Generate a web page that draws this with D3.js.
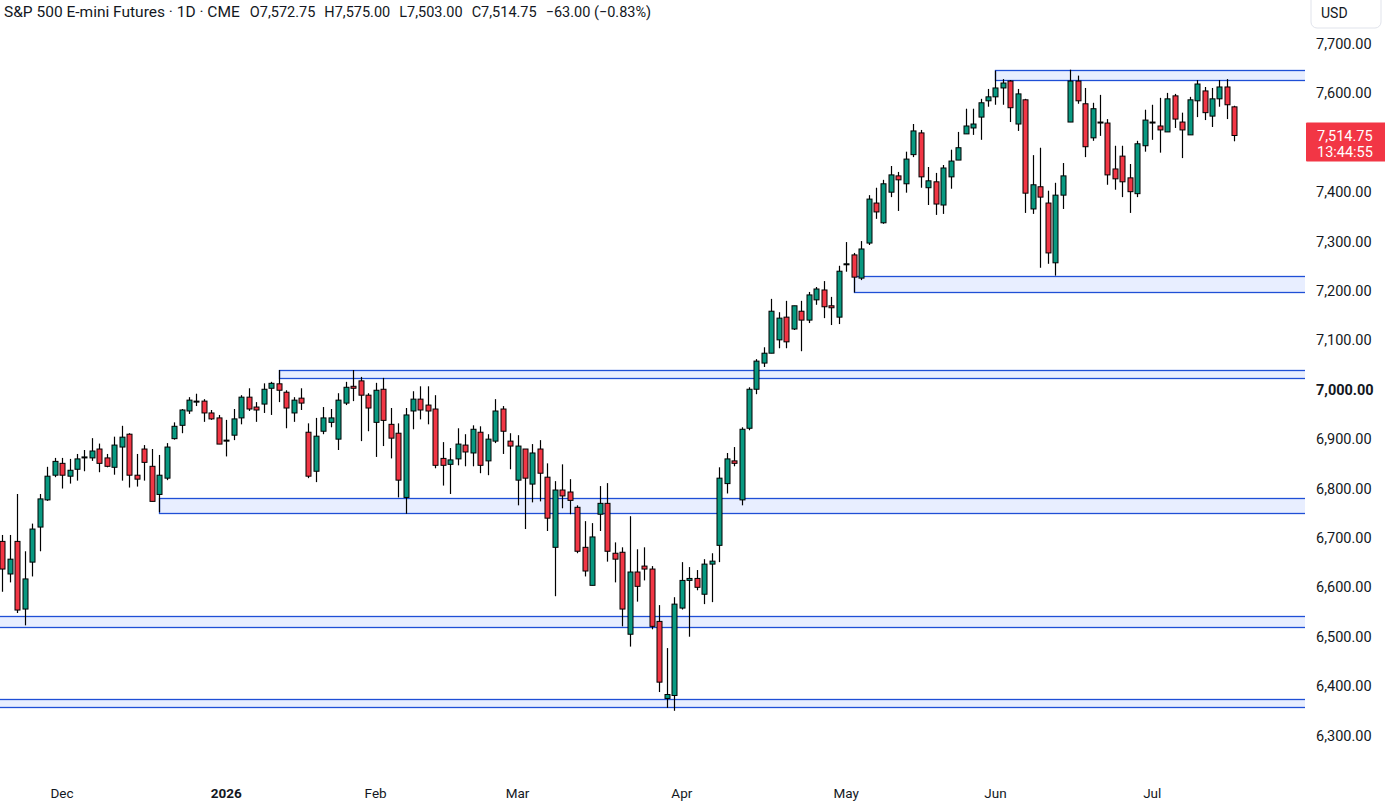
<!DOCTYPE html>
<html><head><meta charset="utf-8">
<script src="https://cdn.jsdelivr.net/npm/d3@7/dist/d3.min.js"></script>
<style>body{margin:0;background:#fff}svg{display:block;font-family:Roboto,"Liberation Sans",sans-serif}</style>
</head><body><svg id="c" width="1385" height="802"></svg>
<script>
// ---- data (daily sessions, index 0 = first visible candle) ----
const opens = [6693,6627,6693,6556,6651,6722,6777,6827,6851,6825,6839,6864,6862,6880,6862,6843,6884,6910,6827,6880,6845,6788,6821,6901,6928,6957,6977,6977,6953,6943,6898,6908,6943,6985,6965,6971,7003,7012,6995,6953,6983,6914,6835,6916,6934,6900,6973,7007,7018,6989,6934,7001,6930,6912,6782,6957,6981,6969,6961,6861,6849,6860,6888,6872,6914,6856,6896,6961,6896,6817,6880,6809,6880,6823,6681,6797,6793,6762,6681,6604,6748,6770,6669,6671,6505,6631,6643,6637,6531,6375,6381,6558,6614,6618,6586,6647,6685,6810,6856,6777,6922,7001,7054,7074,7101,7147,7123,7159,7141,7182,7202,7170,7147,7255,7273,7226,7297,7378,7338,7400,7433,7417,7476,7520,7409,7421,7374,7431,7465,7518,7530,7552,7585,7593,7611,7625,7538,7587,7366,7411,7378,7257,7394,7542,7625,7579,7510,7542,7540,7447,7473,7429,7397,7494,7542,7534,7522,7595,7542,7516,7585,7605,7554,7589,7613,7572.75];
const highs = [6706,6706,6789,6673,6729,6789,6844,6862,6862,6860,6870,6878,6902,6891,6870,6905,6927,6912,6870,6888,6880,6868,6892,6934,6961,6985,6992,6981,6959,6949,6939,6961,6989,7003,6975,7013,7016,7040,6999,6985,7003,6932,6943,6965,6961,6993,7016,7040,7026,6993,7014,7024,6963,6932,6963,6997,7007,7007,6989,6894,6882,6922,6910,6928,6926,6910,6981,6967,6912,6908,6880,6890,6898,6851,6815,6849,6819,6766,6734,6730,6805,6811,6691,6681,6744,6677,6681,6643,6564,6477,6580,6651,6641,6635,6657,6669,6843,6872,6884,6924,7005,7062,7086,7184,7157,7180,7170,7180,7198,7208,7220,7188,7251,7299,7277,7301,7394,7409,7425,7453,7441,7482,7538,7526,7451,7439,7455,7486,7522,7569,7569,7589,7609,7646,7629,7627,7609,7589,7475,7490,7403,7419,7459,7648,7636,7611,7581,7597,7548,7494,7494,7457,7504,7567,7577,7591,7601,7599,7561,7593,7627,7613,7611,7627,7629,7575];
const lows = [6591,6610,6548,6523,6622,6673,6775,6823,6800,6810,6816,6835,6856,6833,6843,6828,6816,6802,6804,6816,6774,6752,6817,6899,6912,6951,6967,6935,6939,6890,6865,6898,6930,6957,6935,6953,6949,6975,6922,6935,6959,6821,6813,6910,6924,6878,6969,6977,6896,6916,6864,6886,6861,6782,6749,6920,6940,6930,6841,6806,6789,6847,6845,6845,6831,6827,6892,6870,6839,6766,6718,6772,6774,6714,6582,6760,6748,6669,6622,6604,6714,6652,6610,6521,6480,6571,6614,6515,6388,6356,6350,6555,6500,6594,6566,6570,6651,6790,6845,6766,6918,6991,7046,7074,7084,7084,7121,7078,7135,7172,7145,7131,7133,7239,7197,7222,7293,7346,7336,7390,7362,7399,7471,7409,7374,7354,7356,7407,7465,7518,7516,7506,7573,7577,7577,7542,7524,7358,7356,7247,7255,7231,7366,7542,7579,7471,7504,7514,7415,7405,7390,7358,7390,7482,7506,7480,7522,7530,7469,7516,7552,7546,7532,7573,7548,7503];
const closes = [6637,6657,6554,6617,6718,6779,6825,6855,6827,6837,6860,6864,6876,6851,6845,6888,6904,6827,6819,6853,6774,6827,6884,6926,6959,6979,6977,6953,6941,6890,6898,6941,6985,6961,6959,7001,7013,6999,6963,6979,6973,6825,6906,6943,6943,6979,7005,7003,6989,6963,6999,6938,6902,6817,6949,6981,6959,6957,6847,6847,6858,6890,6874,6920,6847,6900,6957,6916,6886,6886,6821,6872,6831,6740,6797,6785,6776,6673,6633,6702,6770,6673,6657,6556,6631,6602,6637,6521,6408,6383,6566,6614,6618,6600,6647,6653,6821,6860,6851,6920,7001,7058,7074,7159,7145,7097,7170,7141,7192,7204,7168,7166,7240,7255,7228,7285,7386,7360,7417,7435,7425,7467,7524,7431,7423,7376,7449,7463,7490,7534,7538,7581,7593,7611,7621,7571,7599,7398,7415,7390,7277,7394,7433,7625,7585,7492,7569,7542,7435,7427,7421,7401,7498,7546,7542,7526,7589,7548,7526,7587,7619,7561,7589,7613,7577,7514.75];

// month axis labels and the session index where each month begins
const monthLabels = ["Dec","2026","Feb","Mar","Apr","May","Jun","Jul"];
const monthStart  = [8,30,50,69,91,113,133,154];

// price axis ticks (7,500 hidden behind the last-price tag)
const priceTicks = [7700,7600,7400,7300,7200,7100,7000,6900,6800,6700,6600,6500,6400,6300];

// horizontal zones drawn on the chart (start session, top price, bottom price)
const zoneStart  = [133,114,37,21,-5,-5];
const zoneTop    = [7648,7230,7040,6780,6541,6373];
const zoneBottom = [7627,7197,7024,6750,6520,6357];

const lastPrice = 7514.75, countdown = "13:44:55";
const title = "S&P 500 E-mini Futures · 1D · CME";
const ohlcText = ["O7,572.75","H7,575.00","L7,503.00","C7,514.75","−63.00 (−0.83%)"];

// ---- drawing ----
const svg = d3.select("#c");
const plotW = 1305;
const x = d3.scaleLinear().domain([0,165]).range([2.3,1234.4]);
const y = d3.scaleLinear().domain([6300,7700]).range([735.5,44]);
const UP="#089981", DN="#f23645", TXT="#131722";

svg.append("clipPath").attr("id","pc").append("rect").attr("x",0).attr("y",0).attr("width",plotW).attr("height",770);
const plot = svg.append("g").attr("clip-path","url(#pc)");

// zones
const zones = zoneStart.map((s,i)=>({s,t:zoneTop[i],b:zoneBottom[i]}));
plot.selectAll("rect.zone").data(zones).join("rect").attr("class","zone")
  .attr("x",d=>Math.round(x(d.s))+0.5).attr("y",d=>Math.round(y(d.t))+0.5)
  .attr("width",d=>plotW+20-Math.round(x(d.s))).attr("height",d=>Math.round(y(d.b))-Math.round(y(d.t)))
  .attr("fill","rgba(41,98,255,0.11)").attr("stroke","#1f4fd6").attr("stroke-width",1.3);

// candles
const candles = opens.map((o,i)=>({i,o,h:highs[i],l:lows[i],c:closes[i]}));
const g = plot.selectAll("g.cdl").data(candles).join("g").attr("class","cdl");
g.append("line")
  .attr("x1",d=>Math.round(x(d.i))+0.5).attr("x2",d=>Math.round(x(d.i))+0.5)
  .attr("y1",d=>y(d.h)).attr("y2",d=>y(d.l)).attr("stroke","#000").attr("stroke-width",1.2);
g.append("rect")
  .attr("x",d=>Math.round(x(d.i))-2)
  .attr("y",d=>Math.min(y(d.o),y(d.c)))
  .attr("width",5)
  .attr("height",d=>Math.max(1,Math.abs(y(d.o)-y(d.c))))
  .attr("fill",d=>d.c>=d.o?UP:DN).attr("stroke","#000").attr("stroke-width",1);

// price axis labels
svg.append("g").selectAll("text").data(priceTicks).join("text")
  .attr("x",1316).attr("y",d=>y(d)+5).attr("fill",TXT)
  .attr("font-size",14.5).attr("font-weight",d=>d===7000?"bold":"normal")
  .text(d=>d3.format(",.2f")(d));

// last price tag
const ly = y(lastPrice);
svg.append("rect").attr("x",1306).attr("y",ly-13).attr("width",80).attr("height",39).attr("fill",DN).attr("rx",1);
svg.append("text").attr("x",1317).attr("y",ly+5).attr("fill","#fff").attr("font-size",14.5).text(d3.format(",.2f")(lastPrice));
svg.append("text").attr("x",1317).attr("y",ly+21).attr("fill","#fff").attr("font-size",14.5).text(countdown);

// USD box
svg.append("rect").attr("x",1311).attr("y",-6).attr("width",70).attr("height",34).attr("rx",6)
  .attr("fill","#fff").attr("stroke","#e0e3eb");
svg.append("text").attr("x",1321).attr("y",18).attr("fill",TXT).attr("font-size",14).text("USD");

// month axis
svg.append("g").selectAll("text").data(monthLabels).join("text")
  .attr("x",(d,i)=>x(monthStart[i])).attr("y",798).attr("text-anchor","middle")
  .attr("fill",TXT).attr("font-size",13.5).attr("font-weight",d=>d==="2026"?"bold":"normal").text(d=>d);

// header
const hdr = svg.append("text").attr("x",4).attr("y",17).attr("fill",TXT);
hdr.append("tspan").attr("font-size",15.5).text(title);
ohlcText.forEach((t,i)=>hdr.append("tspan").attr("font-size",14.5).attr("dx",i===0?10:9).text(t));
</script></body></html>
